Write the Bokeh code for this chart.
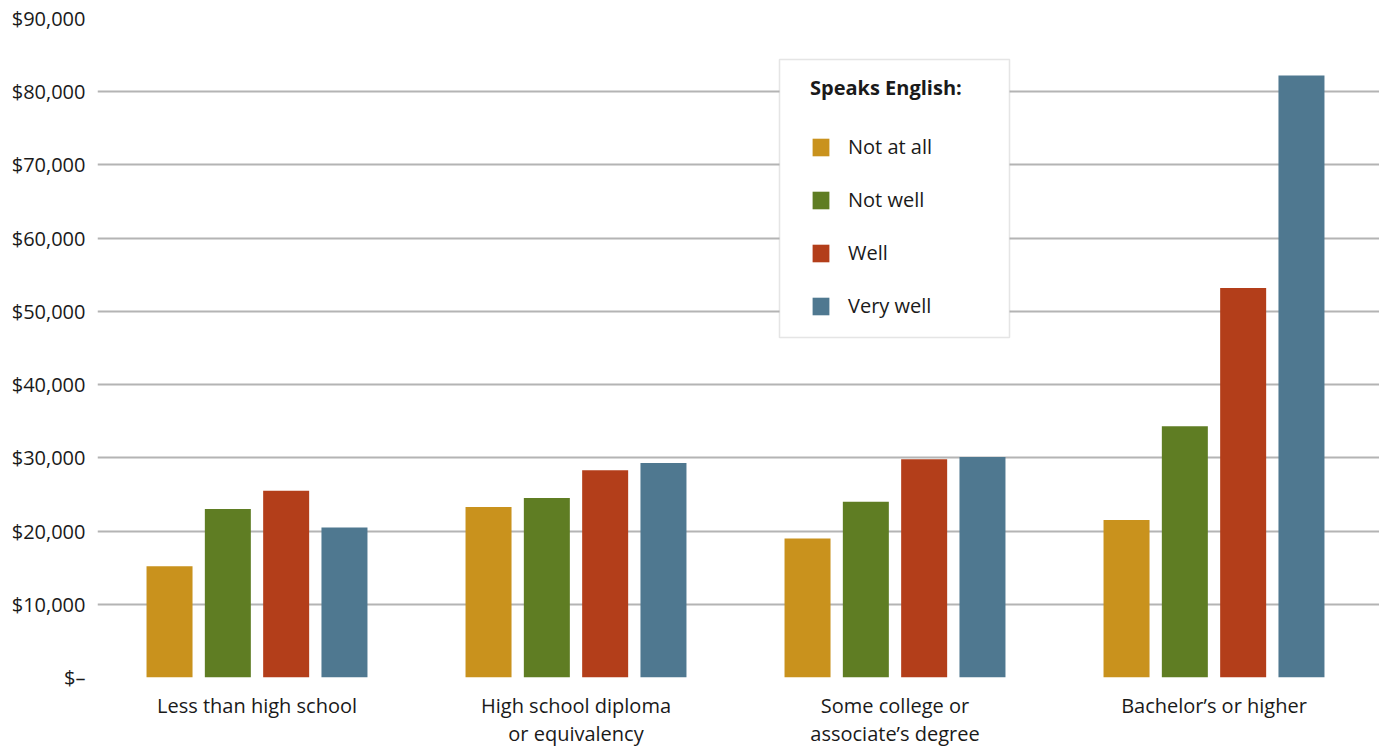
import numpy as np
from bokeh.plotting import figure
from bokeh.models import (Range1d, FixedTicker, Legend, LegendItem, BoxAnnotation,
                          ColumnDataSource)
from bokeh.embed import file_html
from bokeh.resources import INLINE

# ---- data ----
categories = ["Less than high school", "High school diploma\nor equivalency",
              "Some college or\nassociate\u2019s degree", "Bachelor\u2019s or higher"]
series_names = ["Not at all", "Not well", "Well", "Very well"]
not_at_all = [15200, 23300, 19000, 21500]
not_well = [23000, 24500, 24000, 34300]
well = [25500, 28300, 29800, 53200]
very_well = [20500, 29300, 30100, 82200]
y_ticks = [0, 10000, 20000, 30000, 40000, 50000, 60000, 70000, 80000, 90000]
y_tick_labels = ["$\u2013", "$10,000", "$20,000", "$30,000", "$40,000", "$50,000",
                 "$60,000", "$70,000", "$80,000", "$90,000"]

# ---- style ----
colors = ["#C9921D", "#5F7D23", "#B33E1A", "#4F7890"]
FONT = "Open Sans"
TEXT = "#1a1a1a"
GRID = "#b4b4b4"

W, H = 1379, 749
LEFT, TOP, BOTTOM = 97, 18, 71
frame_w = W - LEFT
group_px = 319.0
offsets = [-0.2742, -0.0914, 0.0914, 0.2742]
bar_w = 0.1442

p = figure(width=W, height=H, output_backend="svg", toolbar_location=None,
           x_range=Range1d(0, frame_w / group_px), y_range=Range1d(0, 90000),
           min_border_left=LEFT, min_border_right=0, min_border_top=TOP,
           min_border_bottom=BOTTOM)
p.outline_line_color = None
p.background_fill_color = "white"
p.border_fill_color = "white"

centers = np.arange(len(categories)) + 0.5
renderers = []
for vals, name, col, off in zip([not_at_all, not_well, well, very_well], series_names, colors, offsets):
    src = ColumnDataSource(dict(x=centers + off, top=vals))
    r = p.vbar(x="x", top="top", bottom=0, width=bar_w, source=src,
               fill_color=col, line_color=None)
    renderers.append((name, r))

# axes
p.yaxis.ticker = FixedTicker(ticks=y_ticks)
p.yaxis.major_label_overrides = {t: l for t, l in zip(y_ticks, y_tick_labels)}
p.yaxis.axis_line_color = None
p.yaxis.major_tick_line_color = None
p.yaxis.major_tick_out = 0
p.yaxis.major_tick_in = 0
p.yaxis.minor_tick_line_color = None
p.yaxis.major_label_text_font = FONT
p.yaxis.major_label_text_font_size = "20px"
p.yaxis.major_label_text_color = TEXT
p.yaxis.major_label_standoff = 12

p.xaxis.ticker = FixedTicker(ticks=list(centers))
p.xaxis.major_label_overrides = {float(c): l for c, l in zip(centers, categories)}
p.xaxis.axis_line_color = None
p.xaxis.major_tick_line_color = None
p.xaxis.major_tick_out = 0
p.xaxis.major_tick_in = 0
p.xaxis.minor_tick_line_color = None
p.xaxis.major_label_text_font = FONT
p.xaxis.major_label_text_font_size = "20px"
p.xaxis.major_label_text_color = TEXT
p.xaxis.major_label_text_line_height = 1.05
p.xaxis.major_label_standoff = 14

p.xgrid.grid_line_color = None
p.ygrid.ticker = FixedTicker(ticks=y_ticks)
p.ygrid.grid_line_color = GRID
p.ygrid.grid_line_width = 2

# legend box
box = BoxAnnotation(left=779, right=1009, top=59, bottom=337,
                    left_units="canvas", right_units="canvas",
                    top_units="canvas", bottom_units="canvas",
                    fill_color="white", fill_alpha=1.0,
                    line_color="#aaaaaa", line_width=1.5)
p.add_layout(box)

legend = Legend(items=[LegendItem(label=n, renderers=[r]) for n, r in renderers],
                location=(810 - LEFT, 358),
                title="Speaks English:", title_text_font=FONT,
                title_text_font_size="20px", title_text_font_style="bold",
                title_text_color=TEXT, title_standoff=32,
                label_text_font=FONT, label_text_font_size="20px",
                label_text_color=TEXT, glyph_width=21, glyph_height=22,
                label_height=22, label_standoff=17, spacing=26,
                padding=0, margin=0, border_line_color=None,
                background_fill_alpha=0)
p.add_layout(legend, "center")

open("out.html", "w").write(file_html(p, INLINE))
